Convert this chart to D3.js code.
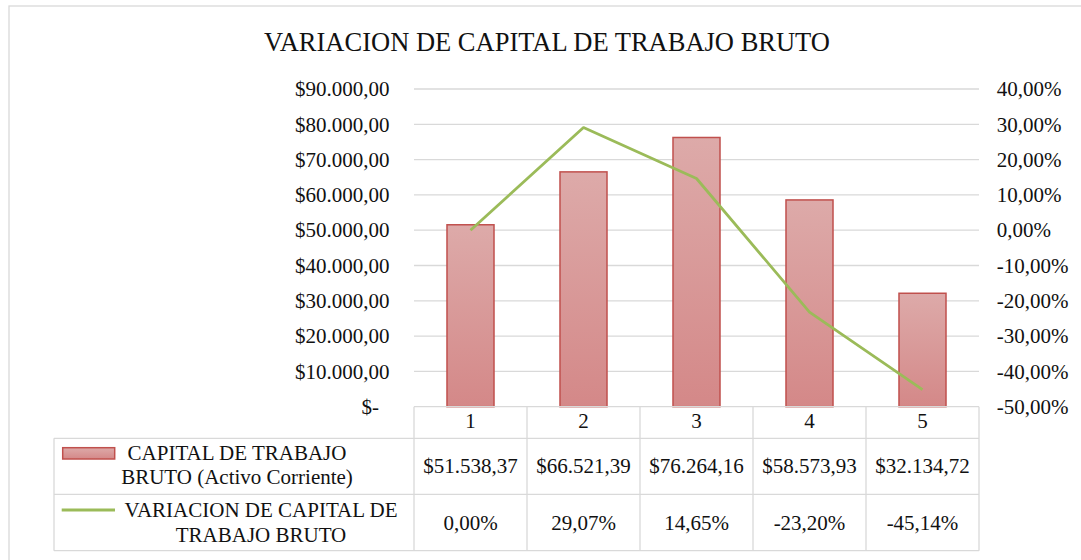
<!DOCTYPE html>
<html>
<head>
<meta charset="utf-8">
<script src="https://cdn.jsdelivr.net/npm/d3@7"></script>
<style>
  body { margin: 0; background: #fff; }
  svg text { font-family: "Liberation Serif", "Times New Roman", serif; fill: #111; }
</style>
</head>
<body>
<div id="chart"></div>
<script>
// data
const categories = ["1", "2", "3", "4", "5"];
const capitalBruto = [51538.37, 66521.39, 76264.16, 58573.93, 32134.72];
const variacion = [0.0, 0.2907, 0.1465, -0.2320, -0.4514];
const leftTicks = [0, 10000, 20000, 30000, 40000, 50000, 60000, 70000, 80000, 90000];
const rightTicks = [-0.5, -0.4, -0.3, -0.2, -0.1, 0, 0.1, 0.2, 0.3, 0.4];
const seriesNames = [
  ["CAPITAL DE TRABAJO", "BRUTO (Activo Corriente)"],
  ["VARIACION DE CAPITAL DE", "TRABAJO BRUTO"]
];
const title = "VARIACION DE CAPITAL DE TRABAJO BRUTO";

const W = 1081, H = 560;
const plot = { left: 414, right: 979, top: 89, bottom: 406.7 };
const rows = [406.7, 438.3, 494.3, 550.7]; // table row lines
const tableLeft = 54;
const gridColor = "#d9d9d9";

// spanish number format
const es = d3.formatLocale({
  decimal: ",", thousands: ".", grouping: [3], currency: ["$", ""], minus: "-"
});
const fmtMoney = es.format("$,.2f");
const fmtPct = es.format(".2%");

const svg = d3.select("#chart").append("svg")
  .attr("width", W).attr("height", H);

// chart frame
svg.append("rect")
  .attr("x", 9).attr("y", 6)
  .attr("width", 1085).attr("height", 570)
  .attr("fill", "#fff")
  .attr("stroke", gridColor).attr("stroke-width", 1.3);

svg.append("text")
  .attr("x", 547).attr("y", 50.5)
  .attr("text-anchor", "middle")
  .style("font-size", "26.5px")
  .text(title);

// scales
const xCol = d3.scaleBand().domain(categories).range([plot.left, plot.right]).padding(0);
const xBar = d3.scaleBand().domain(categories).range([plot.left, plot.right])
  .paddingInner(0.584).paddingOuter(0.292);
const y = d3.scaleLinear().domain([0, 90000]).range([plot.bottom, plot.top]);
const y2 = d3.scaleLinear().domain([-0.5, 0.4]).range([plot.bottom, plot.top]);

// gridlines
svg.append("g").selectAll("line")
  .data(leftTicks.filter(d => d > 0))
  .join("line")
  .attr("x1", plot.left).attr("x2", plot.right)
  .attr("y1", d => y(d)).attr("y2", d => y(d))
  .attr("stroke", gridColor).attr("stroke-width", 1.3);

// left axis
const gLeft = svg.append("g")
  .attr("transform", `translate(${plot.left},0)`)
  .call(d3.axisLeft(y).tickValues(leftTicks).tickSize(0).tickPadding(24.5)
    .tickFormat(d => d === 0 ? "$-" : fmtMoney(d)));
gLeft.select(".domain").remove();
gLeft.selectAll("text").style("font-size", "21px").attr("fill", "#111");
gLeft.selectAll(".tick").filter(d => d === 0).select("text").attr("x", -35);

// right axis
const gRight = svg.append("g")
  .attr("transform", `translate(${plot.right},0)`)
  .call(d3.axisRight(y2).tickValues(rightTicks).tickSize(0).tickPadding(17.7)
    .tickFormat(fmtPct));
gRight.select(".domain").remove();
gRight.selectAll("text").style("font-size", "21px").attr("fill", "#111");

// bar gradient
const grad = svg.append("defs").append("linearGradient")
  .attr("id", "barGrad").attr("x1", 0).attr("y1", 0).attr("x2", 0).attr("y2", 1);
grad.append("stop").attr("offset", "0%").attr("stop-color", "#ddaaa9");
grad.append("stop").attr("offset", "100%").attr("stop-color", "#d48888");

// bars
svg.append("g").selectAll("rect")
  .data(capitalBruto)
  .join("rect")
  .attr("x", (d, i) => xBar(categories[i]))
  .attr("width", xBar.bandwidth())
  .attr("y", d => y(d))
  .attr("height", d => y(0) - y(d))
  .attr("fill", "url(#barGrad)")
  .attr("stroke", "#c0504d").attr("stroke-width", 1.5);

// line
const line = d3.line()
  .x((d, i) => xCol(categories[i]) + xCol.bandwidth() / 2)
  .y(d => y2(d));
svg.append("path")
  .datum(variacion)
  .attr("d", line)
  .attr("fill", "none")
  .attr("stroke", "#9bbb59").attr("stroke-width", 2.8)
  .attr("stroke-linejoin", "round");

// data table
const table = svg.append("g").attr("stroke", gridColor).attr("stroke-width", 1.3);
// horizontal lines
table.append("line").attr("x1", plot.left).attr("x2", plot.right).attr("y1", rows[0]).attr("y2", rows[0]);
[rows[1], rows[2], rows[3]].forEach(r => {
  table.append("line").attr("x1", tableLeft).attr("x2", plot.right).attr("y1", r).attr("y2", r);
});
// vertical lines
table.append("line").attr("x1", tableLeft).attr("x2", tableLeft).attr("y1", rows[1]).attr("y2", rows[3]);
table.selectAll(".vcol")
  .data(categories)
  .join("line")
  .attr("x1", d => xCol(d)).attr("x2", d => xCol(d))
  .attr("y1", rows[0]).attr("y2", rows[3]);
table.append("line").attr("x1", plot.right).attr("x2", plot.right).attr("y1", rows[0]).attr("y2", rows[3]);

const cx = d => xCol(d) + xCol.bandwidth() / 2;
const cells = svg.append("g").style("font-size", "21px").attr("text-anchor", "middle");
cells.selectAll(".cat").data(categories).join("text")
  .attr("x", cx).attr("y", 427.5).text(d => d);
cells.selectAll(".v1").data(capitalBruto).join("text")
  .attr("x", (d, i) => cx(categories[i])).attr("y", 473).text(d => fmtMoney(d));
cells.selectAll(".v2").data(variacion).join("text")
  .attr("x", (d, i) => cx(categories[i])).attr("y", 530).text(d => fmtPct(d));

// legend keys inside the table
svg.append("rect")
  .attr("x", 62.7).attr("y", 447.7).attr("width", 52).attr("height", 11.3)
  .attr("fill", "url(#barGrad)").attr("stroke", "#c0504d").attr("stroke-width", 1.5);
svg.append("line")
  .attr("x1", 61.7).attr("x2", 115).attr("y1", 510).attr("y2", 510)
  .attr("stroke", "#9bbb59").attr("stroke-width", 2.8);

const leg = svg.append("g").style("font-size", "21px").attr("text-anchor", "middle");
leg.selectAll(".l1").data(seriesNames[0]).join("text")
  .attr("x", 237).attr("y", (d, i) => 460 + i * 24).text(d => d);
leg.selectAll(".l2").data(seriesNames[1]).join("text")
  .attr("x", 261).attr("y", (d, i) => 517 + i * 25).text(d => d);
</script>
</body>
</html>
